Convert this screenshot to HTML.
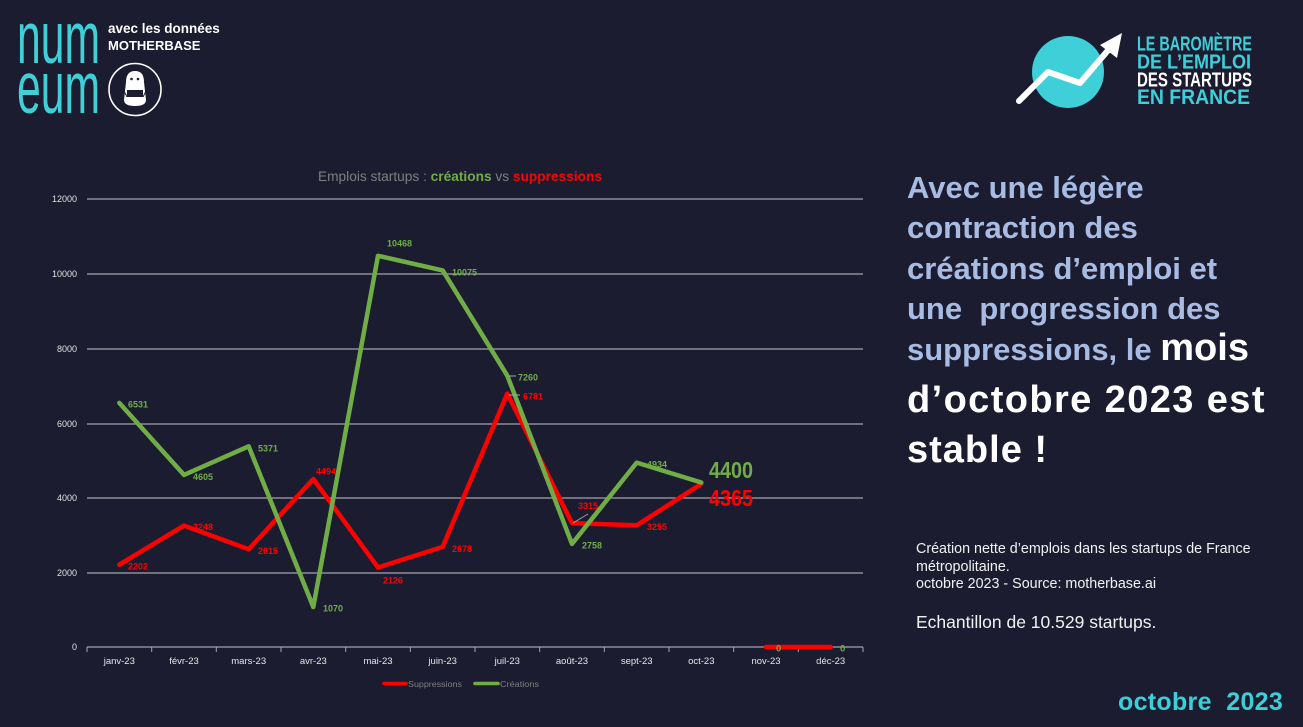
<!DOCTYPE html>
<html>
<head>
<meta charset="utf-8">
<style>
  html,body{margin:0;padding:0;}
  body{width:1303px;height:727px;background:#1c1c31;position:relative;overflow:hidden;font-family:"Liberation Sans",Arial,sans-serif;}
  .t{position:absolute;white-space:pre;line-height:1;}
  .blue{color:#a8bce3;font-weight:bold;font-size:31px;}
  .white{color:#ffffff;font-weight:bold;font-size:38px;}
  .small{color:#f2f2f2;font-size:14.3px;}
</style>
</head>
<body>
<svg width="1303" height="727" viewBox="0 0 1303 727" style="position:absolute;left:0;top:0" xmlns="http://www.w3.org/2000/svg">
  <!-- top-left logo -->
  <text x="17" y="63" font-family="Liberation Sans" font-size="73" fill="#3ecfd7" textLength="83" lengthAdjust="spacingAndGlyphs">num</text>
  <text x="17" y="113" font-family="Liberation Sans" font-size="73" fill="#3ecfd7" textLength="83" lengthAdjust="spacingAndGlyphs">eum</text>
  <text x="108" y="33" font-family="Liberation Sans" font-weight="bold" font-size="13.5" fill="#ffffff">avec les données</text>
  <text x="108" y="50" font-family="Liberation Sans" font-weight="bold" font-size="13" fill="#ffffff">MOTHERBASE</text>
  <circle cx="135" cy="89.5" r="26" fill="none" stroke="#ffffff" stroke-width="1.6"/>
  <path d="M126 82 Q126 71 135 71 Q144 71 144 82 L146 100 Q146 106 135 106 Q124 106 124 100 Z" fill="#ffffff"/>
  <circle cx="131.5" cy="79" r="1.3" fill="#1c1c31"/>
  <circle cx="138" cy="79" r="1.3" fill="#1c1c31"/>
  <rect x="127" y="90" width="16" height="7" fill="#1c1c31"/>
  <line x1="124" y1="91" x2="127" y2="97" stroke="#1c1c31" stroke-width="1"/>
  <line x1="146" y1="91" x2="143" y2="97" stroke="#1c1c31" stroke-width="1"/>

  <!-- top-right logo -->
  <circle cx="1068" cy="72" r="36" fill="#3ecfd8"/>
  <polyline points="1019,101 1048,72 1080,83 1110,48" fill="none" stroke="#ffffff" stroke-width="6" stroke-linejoin="round" stroke-linecap="round"/>
  <polygon points="1122,33 1100,45 1117,58" fill="#ffffff"/>
  <text x="1137" y="50.5" font-family="Liberation Sans" font-weight="bold" font-size="20" fill="#3ecfd8" textLength="115" lengthAdjust="spacingAndGlyphs">LE BAROMÈTRE</text>
  <text x="1137" y="68.5" font-family="Liberation Sans" font-weight="bold" font-size="20.5" fill="#3ecfd8" textLength="114" lengthAdjust="spacingAndGlyphs">DE L’EMPLOI</text>
  <text x="1137" y="86.5" font-family="Liberation Sans" font-weight="bold" font-size="20" fill="#ffffff" textLength="115" lengthAdjust="spacingAndGlyphs">DES STARTUPS</text>
  <text x="1137" y="104" font-family="Liberation Sans" font-weight="bold" font-size="21" fill="#3ecfd8" textLength="113" lengthAdjust="spacingAndGlyphs">EN FRANCE</text>

  <!-- chart title -->
  <text x="318" y="181" font-family="Liberation Sans" font-size="13.5" fill="#7f7f7f" textLength="284" lengthAdjust="spacingAndGlyphs">Emplois startups : <tspan font-weight="bold" fill="#70ad47">créations</tspan> vs <tspan font-weight="bold" fill="#ff0000">suppressions</tspan></text>

  <!-- grid -->
  <g stroke="#a3a3ad" stroke-width="1.2">
    <line x1="87" y1="199" x2="863" y2="199"/>
    <line x1="87" y1="274" x2="863" y2="274"/>
    <line x1="87" y1="349" x2="863" y2="349"/>
    <line x1="87" y1="424" x2="863" y2="424"/>
    <line x1="87" y1="498" x2="863" y2="498"/>
    <line x1="87" y1="573" x2="863" y2="573"/>
    <line x1="87" y1="647" x2="863" y2="647"/>
  </g>
  <g stroke="#a3a3ad" stroke-width="1">
    <line x1="87" y1="647" x2="87" y2="652"/>
    <line x1="151.7" y1="647" x2="151.7" y2="652"/>
    <line x1="216.3" y1="647" x2="216.3" y2="652"/>
    <line x1="281" y1="647" x2="281" y2="652"/>
    <line x1="345.7" y1="647" x2="345.7" y2="652"/>
    <line x1="410.3" y1="647" x2="410.3" y2="652"/>
    <line x1="475" y1="647" x2="475" y2="652"/>
    <line x1="539.7" y1="647" x2="539.7" y2="652"/>
    <line x1="604.3" y1="647" x2="604.3" y2="652"/>
    <line x1="669" y1="647" x2="669" y2="652"/>
    <line x1="733.7" y1="647" x2="733.7" y2="652"/>
    <line x1="798.3" y1="647" x2="798.3" y2="652"/>
    <line x1="863" y1="647" x2="863" y2="652"/>
  </g>

  <!-- y labels -->
  <g font-family="Liberation Sans" font-size="9" fill="#e0e0e0" text-anchor="end">
    <text x="77" y="202">12000</text>
    <text x="77" y="277">10000</text>
    <text x="77" y="352">8000</text>
    <text x="77" y="427">6000</text>
    <text x="77" y="501">4000</text>
    <text x="77" y="576">2000</text>
    <text x="77" y="650">0</text>
  </g>
  <!-- x labels -->
  <g font-family="Liberation Sans" font-size="9.5" fill="#e6e6e6" text-anchor="middle">
    <text x="119.3" y="664">janv-23</text>
    <text x="184" y="664">févr-23</text>
    <text x="248.7" y="664">mars-23</text>
    <text x="313.3" y="664">avr-23</text>
    <text x="378" y="664">mai-23</text>
    <text x="442.7" y="664">juin-23</text>
    <text x="507.3" y="664">juil-23</text>
    <text x="572" y="664">août-23</text>
    <text x="636.7" y="664">sept-23</text>
    <text x="701.3" y="664">oct-23</text>
    <text x="766" y="664">nov-23</text>
    <text x="830.7" y="664">déc-23</text>
  </g>

  <!-- series -->
  <polyline points="119.3,564.7 184,525.6 248.7,549.3 313.3,479 378,567.5 442.7,546.9 507.3,393.6 572,523.1 636.7,525.3 701.3,483.9" fill="none" stroke="#ff0000" stroke-width="4.5" stroke-linejoin="round" stroke-linecap="round"/>
  <polyline points="119.3,402.9 184,474.9 248.7,446.3 313.3,607 378,255.8 442.7,270.4 507.3,375.7 572,543.9 636.7,462.6 701.3,482.5" fill="none" stroke="#70ad47" stroke-width="4.5" stroke-linejoin="round" stroke-linecap="round"/>
  <line x1="766" y1="647" x2="830.7" y2="647" stroke="#ff0000" stroke-width="4.5" stroke-linecap="round"/>

  <!-- leader lines -->
  <g stroke="#a6a6a6" stroke-width="1">
    <line x1="509" y1="376" x2="516" y2="376"/>
    <line x1="509" y1="395" x2="520" y2="395"/>
    <line x1="573" y1="523" x2="588" y2="514"/>
  </g>

  <!-- data labels red -->
  <g font-family="Liberation Sans" font-weight="bold" font-size="9.5" fill="#ff0000">
    <text x="128" y="569.5" textLength="20" lengthAdjust="spacingAndGlyphs">2202</text>
    <text x="193" y="530" textLength="20" lengthAdjust="spacingAndGlyphs">3248</text>
    <text x="258" y="554" textLength="20" lengthAdjust="spacingAndGlyphs">2615</text>
    <text x="316" y="474.5" textLength="20" lengthAdjust="spacingAndGlyphs">4494</text>
    <text x="383" y="583.5" textLength="20" lengthAdjust="spacingAndGlyphs">2126</text>
    <text x="452" y="552" textLength="20" lengthAdjust="spacingAndGlyphs">2678</text>
    <text x="523" y="399.5" textLength="20" lengthAdjust="spacingAndGlyphs">6781</text>
    <text x="578" y="509" textLength="20" lengthAdjust="spacingAndGlyphs">3315</text>
    <text x="647" y="530" textLength="20" lengthAdjust="spacingAndGlyphs">3255</text>
    <text x="709" y="506" font-size="23" textLength="44" lengthAdjust="spacingAndGlyphs">4365</text>
  </g>
  <!-- data labels green -->
  <g font-family="Liberation Sans" font-weight="bold" font-size="9.5" fill="#70ad47">
    <text x="128" y="407.5" textLength="20" lengthAdjust="spacingAndGlyphs">6531</text>
    <text x="193" y="480" textLength="20" lengthAdjust="spacingAndGlyphs">4605</text>
    <text x="258" y="451.5" textLength="20" lengthAdjust="spacingAndGlyphs">5371</text>
    <text x="323" y="611.5" textLength="20" lengthAdjust="spacingAndGlyphs">1070</text>
    <text x="387" y="246.5" textLength="25" lengthAdjust="spacingAndGlyphs">10468</text>
    <text x="452" y="275.5" textLength="25" lengthAdjust="spacingAndGlyphs">10075</text>
    <text x="518" y="380.5" textLength="20" lengthAdjust="spacingAndGlyphs">7260</text>
    <text x="582" y="548.5" textLength="20" lengthAdjust="spacingAndGlyphs">2758</text>
    <text x="647" y="467.5" textLength="20" lengthAdjust="spacingAndGlyphs">4934</text>
    <text x="776" y="651.5">0</text>
    <text x="840" y="651.5">0</text>
    <text x="709" y="478" font-size="23" textLength="44" lengthAdjust="spacingAndGlyphs">4400</text>
  </g>

  <!-- legend -->
  <line x1="384" y1="683.5" x2="406" y2="683.5" stroke="#ff0000" stroke-width="3.5" stroke-linecap="round"/>
  <text x="408" y="687" font-family="Liberation Sans" font-size="8.5" fill="#7f7f7f" textLength="54" lengthAdjust="spacingAndGlyphs">Suppressions</text>
  <line x1="475" y1="683.5" x2="498" y2="683.5" stroke="#70ad47" stroke-width="3.5" stroke-linecap="round"/>
  <text x="500" y="687" font-family="Liberation Sans" font-size="8.5" fill="#7f7f7f" textLength="39" lengthAdjust="spacingAndGlyphs">Créations</text>
</svg>

<!-- right-hand text -->
<div class="t blue" style="left:907px;top:172px;">Avec une légère</div>
<div class="t blue" style="left:907px;top:212px;">contraction des</div>
<div class="t blue" style="left:907px;top:253px;">créations d’emploi et</div>
<div class="t blue" style="left:907px;top:293px;">une  progression des</div>
<div class="t" style="left:907px;top:329px;"><span class="blue">suppressions, le </span><span class="white">mois</span></div>
<div class="t white" style="left:907px;top:381px;letter-spacing:1.4px;">d’octobre 2023 est</div>
<div class="t white" style="left:907px;top:431px;letter-spacing:1px;">stable !</div>

<div class="t small" style="left:916px;top:542px;">Création nette d’emplois dans les startups de France</div>
<div class="t small" style="left:916px;top:559.5px;">métropolitaine.</div>
<div class="t small" style="left:916px;top:577px;">octobre 2023 - Source: motherbase.ai</div>
<div class="t" style="left:916px;top:614px;color:#f2f2f2;font-size:17.5px;">Echantillon de 10.529 startups.</div>

<div class="t" style="left:1118px;top:690px;color:#3ccfd8;font-weight:bold;font-size:25px;letter-spacing:0.3px;">octobre  2023</div>
</body>
</html>
